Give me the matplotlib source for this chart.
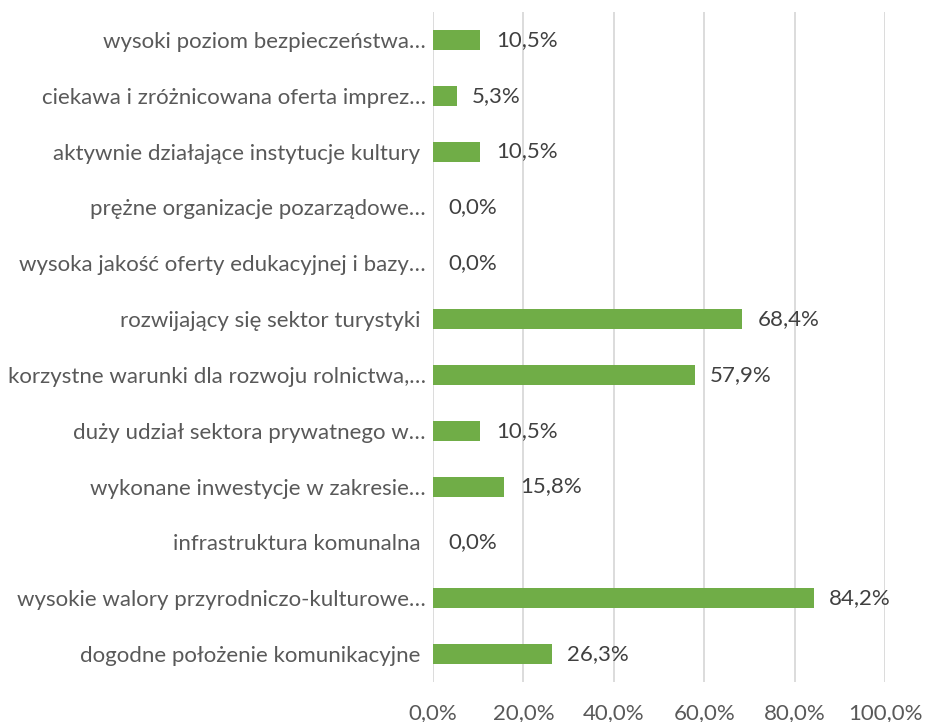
import matplotlib
matplotlib.use("Agg")
import matplotlib.pyplot as plt
from matplotlib.ticker import FuncFormatter

plt.rcParams['font.family'] = ['Lato', 'DejaVu Sans']

categories = [
    "dogodne położenie komunikacyjne ",
    "wysokie walory przyrodniczo-kulturowe…",
    "infrastruktura komunalna ",
    "wykonane inwestycje w zakresie…",
    "duży udział sektora prywatnego w…",
    "korzystne warunki dla rozwoju rolnictwa,…",
    "rozwijający się sektor turystyki ",
    "wysoka jakość oferty edukacyjnej i bazy…",
    "prężne organizacje pozarządowe…",
    "aktywnie działające instytucje kultury ",
    "ciekawa i zróżnicowana oferta imprez…",
    "wysoki poziom bezpieczeństwa…",
]
values = [26.3, 84.2, 0.0, 15.8, 10.5, 57.9, 68.4, 0.0, 0.0, 10.5, 5.3, 10.5]
x_ticks = [0, 20, 40, 60, 80, 100]

text_color = "#595959"
bar_color = "#70AD47"
grid_color = "#D9D9D9"
fs = 16

fig = plt.figure(figsize=(9.25, 7.22), dpi=100)
ax = fig.add_axes([0.468, 0.0554, 0.489, 0.928])

y = list(range(len(categories)))
ax.barh(y, values, height=0.36, color=bar_color, zorder=3)
for yi, v in zip(y, values):
    ax.text(v + 3.4, yi, f"{v:.1f}%".replace(".", ","), va="center", ha="left",
            fontsize=fs, color="#404040", zorder=4)

ax.set_xlim(0, 100)
ax.set_ylim(-0.5, len(categories) - 0.5)
ax.set_xticks(x_ticks)
ax.xaxis.set_major_formatter(FuncFormatter(lambda v, p: f"{v:.1f}%".replace(".", ",")))
ax.set_yticks(y)
ax.set_yticklabels(categories)
ax.tick_params(axis="both", length=0, labelsize=fs, labelcolor=text_color)
ax.tick_params(axis="x", pad=15)
ax.tick_params(axis="y", pad=5)
ax.grid(axis="x", color=grid_color, linewidth=1.3, zorder=0)
for s in ax.spines.values():
    s.set_visible(False)

fig.savefig("out.png", dpi=100, facecolor="white")
